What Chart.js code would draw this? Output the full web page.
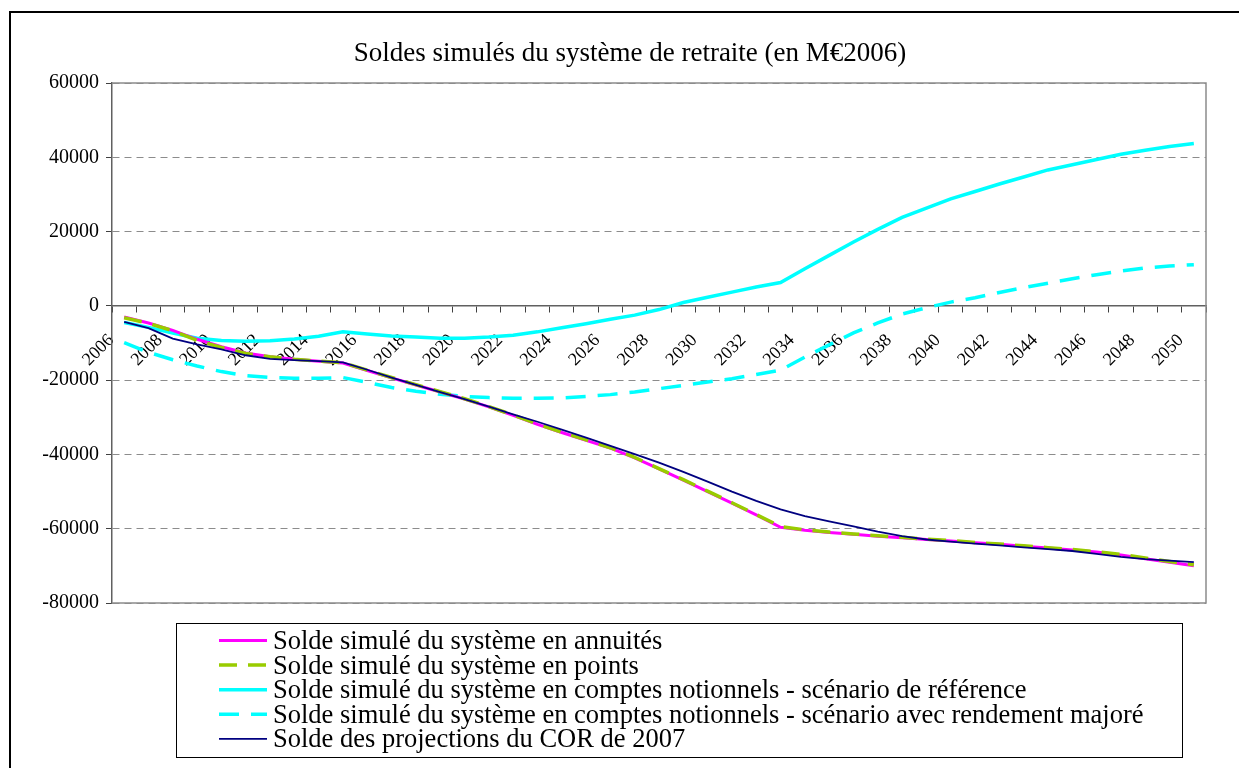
<!DOCTYPE html>
<html>
<head>
<meta charset="utf-8">
<script src="https://cdn.jsdelivr.net/npm/chart.js@4.4.0/dist/chart.umd.min.js"></script>
<style>
html,body{margin:0;padding:0;background:#fff;}
#wrap{width:1239px;height:768px;position:relative;overflow:hidden;}
canvas{display:block;}
</style>
</head>
<body>
<div id="wrap"><canvas id="c" width="1239" height="768"></canvas></div>
<script>
// ---- Data ----
const years = ['2006','2007','2008','2009','2010','2011','2012','2013','2014','2015',
  '2016','2017','2018','2019','2020','2021','2022','2023','2024','2025',
  '2026','2027','2028','2029','2030','2031','2032','2033','2034','2035',
  '2036','2037','2038','2039','2040','2041','2042','2043','2044','2045',
  '2046','2047','2048','2049','2050'];

const shownYearLabels = ['2006','2008','2010','2012','2014','2016','2018','2020','2022','2024',
  '2026','2028','2030','2032','2034','2036','2038','2040','2042','2044','2046','2048','2050'];

const yTickValues = [60000, 40000, 20000, 0, -20000, -40000, -60000, -80000];

const seriesNames = [
  'Solde simulé du système en annuités',
  'Solde simulé du système en points',
  'Solde simulé du système en comptes notionnels - scénario de référence',
  'Solde simulé du système en comptes notionnels - scénario avec rendement majoré',
  'Solde des projections du COR de 2007'
];

const soldeAnnuites = [-3000,-4600,-6600,-9000,-11000,-12700,-13700,-14400,-14900,-15400,
  -17400,-19400,-21300,-23200,-25100,-27200,-29500,-31900,-34100,-36200,
  -38300,-40900,-43900,-46900,-50000,-53100,-56300,-59600,-60400,-61000,
  -61500,-62000,-62400,-62900,-63300,-63800,-64200,-64700,-65200,-65700,
  -66300,-67100,-68100,-69000,-70000];

const soldePoints = [-3200,-4700,-6700,-9300,-11200,-12800,-13700,-14400,-14900,-15300,
  -17300,-19300,-21200,-23100,-25000,-27100,-29400,-31800,-34000,-36100,
  -38200,-40800,-43800,-46800,-49900,-53000,-56200,-59400,-60300,-60900,
  -61400,-61900,-62300,-62800,-63200,-63700,-64100,-64600,-65100,-65600,
  -66200,-66900,-67900,-68800,-69700];

const soldeNotionnelsRef = [-4500,-5800,-7300,-8700,-9300,-9500,-9400,-8900,-8200,-7000,
  -7600,-8100,-8400,-8700,-8700,-8400,-7900,-7000,-5900,-4800,
  -3600,-2500,-1000,900,2300,3700,5100,6300,10000,13600,
  17200,20600,23800,26300,28800,30800,32800,34700,36600,38000,
  39400,40800,41900,42900,43700];

const soldeNotionnelsMajore = [-9900,-12500,-14500,-16200,-17700,-18800,-19300,-19500,-19500,-19300,
  -20600,-22000,-23000,-23800,-24400,-24700,-24900,-24900,-24800,-24400,
  -23900,-23200,-22300,-21400,-20500,-19600,-18500,-17300,-13800,-10500,
  -7300,-4600,-2200,-500,1000,2200,3600,4900,6100,7300,
  8400,9400,10200,10700,11100];

const soldeCOR2007 = [-4300,-6000,-8800,-10400,-11700,-13300,-14300,-14600,-14900,-15200,
  -17200,-19300,-21300,-23200,-25100,-27100,-29200,-31200,-33300,-35500,
  -37700,-39900,-42200,-44700,-47300,-50000,-52500,-54800,-56600,-58000,
  -59400,-60800,-62000,-62900,-63500,-64000,-64500,-65000,-65500,-66000,
  -66800,-67600,-68200,-68600,-69000];

const titleText = 'Soldes simulés du système de retraite (en M€2006)';

// ---- Plugins ----
const SERIF = '"Liberation Serif", "Times New Roman", serif';

const framePlugin = {
  id: 'frame',
  beforeDraw(chart) {
    const ctx = chart.ctx;
    ctx.save();
    ctx.fillStyle = '#ffffff';
    ctx.fillRect(0, 0, chart.width, chart.height);
    ctx.restore();
  },
  beforeDatasetsDraw(chart) {
    const {ctx, chartArea: a} = chart;
    ctx.save();
    ctx.strokeStyle = '#8c8c8c';
    ctx.lineWidth = 1.5;
    ctx.beginPath();
    ctx.moveTo(a.left, a.top);
    ctx.lineTo(a.right, a.top);
    ctx.lineTo(a.right, a.bottom);
    ctx.lineTo(a.left, a.bottom);
    ctx.stroke();
    ctx.restore();
  },
  afterDraw(chart) {
    const ctx = chart.ctx;
    ctx.save();
    // title
    ctx.fillStyle = '#000';
    ctx.font = '27px ' + SERIF;
    ctx.textAlign = 'center';
    ctx.textBaseline = 'middle';
    ctx.fillText(titleText, 630, 54);
    // outer chart border
    ctx.strokeStyle = '#000';
    ctx.lineWidth = 2;
    ctx.strokeRect(10, 12, 1300, 900);
    // legend box
    ctx.lineWidth = 1;
    ctx.strokeRect(176.5, 623.5, 1006, 134);
    ctx.font = '26.5px ' + SERIF;
    ctx.textBaseline = 'middle';
    ctx.textAlign = 'left';
    chart.data.datasets.forEach((ds, i) => {
      const y = 642 + i * 24.6;
      ctx.save();
      ctx.strokeStyle = ds.borderColor;
      ctx.lineWidth = ds.borderWidth;
      ctx.setLineDash(ds.borderDash || []);
      ctx.beginPath();
      ctx.moveTo(219, y - 1.5);
      ctx.lineTo(267, y - 1.5);
      ctx.stroke();
      ctx.restore();
      ctx.fillText(ds.label, 273, y);
    });
    ctx.restore();
  }
};

// ---- Chart ----
const ctx = document.getElementById('c').getContext('2d');
new Chart(ctx, {
  type: 'line',
  data: {
    labels: years,
    datasets: [
      { label: seriesNames[0], data: soldeAnnuites, borderColor: '#FF00FF', backgroundColor: '#FF00FF',
        borderWidth: 3, pointRadius: 0, tension: 0, order: 2 },
      { label: seriesNames[1], data: soldePoints, borderColor: '#99CC00', backgroundColor: '#99CC00',
        borderWidth: 3.5, borderDash: [18, 11], pointRadius: 0, tension: 0, order: 1 },
      { label: seriesNames[2], data: soldeNotionnelsRef, borderColor: '#00FFFF', backgroundColor: '#00FFFF',
        borderWidth: 3.5, pointRadius: 0, tension: 0, order: 4 },
      { label: seriesNames[3], data: soldeNotionnelsMajore, borderColor: '#00FFFF', backgroundColor: '#00FFFF',
        borderWidth: 3.5, borderDash: [20, 12], pointRadius: 0, tension: 0, order: 3 },
      { label: seriesNames[4], data: soldeCOR2007, borderColor: '#000080', backgroundColor: '#000080',
        borderWidth: 1.8, pointRadius: 0, tension: 0, order: 0 }
    ]
  },
  options: {
    responsive: false,
    animation: false,
    devicePixelRatio: 1,
    layout: { padding: { left: 0, right: 33, top: 83, bottom: 165 } },
    plugins: {
      legend: { display: false },
      tooltip: { enabled: false },
      title: { display: false }
    },
    scales: {
      x: {
        type: 'category',
        position: { y: 0 },
        offset: true,
        grid: { display: true, drawOnChartArea: false, drawTicks: true, tickLength: 6,
                tickColor: '#404040', tickWidth: 1, offset: true },
        border: { display: true, color: '#606060', width: 1.5 },
        ticks: {
          autoSkip: false, maxRotation: 45, minRotation: 45, padding: 18, labelOffset: -13,
          color: '#000', font: { family: SERIF, size: 18 },
          callback: function(value, index) {
            const lab = this.getLabelForValue(value);
            return shownYearLabels.includes(lab) ? lab : '';
          }
        }
      },
      y: {
        min: -80000, max: 60000,
        afterFit: (scale) => { scale.width = 112; },
        afterBuildTicks: (scale) => { scale.ticks = yTickValues.map(v => ({ value: v })); },
        grid: { color: '#8c8c8c', lineWidth: 1, tickLength: 6, tickColor: '#404040', drawTicks: true },
        border: { display: true, color: '#606060', width: 1.5, dash: [7, 5] },
        ticks: { padding: 7, color: '#000', font: { family: SERIF, size: 20 },
                 callback: (value) => String(value) }
      }
    }
  },
  plugins: [framePlugin]
});
</script>
</body>
</html>
